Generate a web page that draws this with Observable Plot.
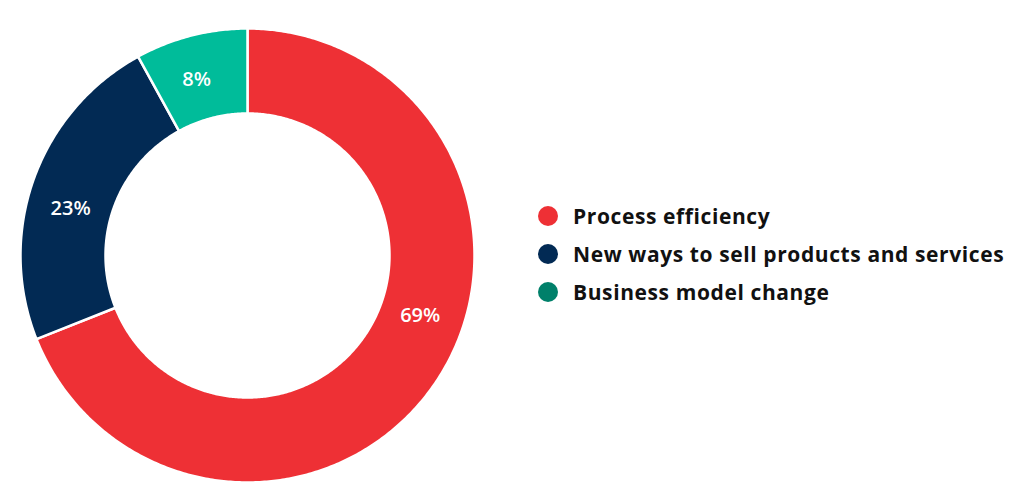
<!DOCTYPE html>
<html>
<head>
<meta charset="utf-8">
<script src="https://cdn.jsdelivr.net/npm/d3@7"></script>
<script src="https://cdn.jsdelivr.net/npm/@observablehq/plot@0.6"></script>
<style>
  html, body { margin: 0; padding: 0; background: #fff; }
  #wrap { position: relative; width: 1024px; height: 501px; }
  #chart { position: absolute; left: 0; top: 0; }
  #legend { position: absolute; left: 538px; top: 197px; font-family: "Open Sans", sans-serif; font-weight: 700; font-size: 21px; letter-spacing: 0.6px; color: #111; }
  .row { display: flex; align-items: center; height: 38px; line-height: 38px; }
  .sw { width: 20px; height: 20px; border-radius: 50%; margin-right: 15px; flex: none; }
</style>
</head>
<body>
<div id="wrap"><div id="chart"></div><div id="legend"></div></div>
<script>
const categories = ["Process efficiency", "New ways to sell products and services", "Business model change"];
const values = [69, 23, 8];
const sliceColors = ["#EE3035", "#022A54", "#00BC9A"];
const legendColors = ["#EE3035", "#022A54", "#00806A"];
const labels = ["69%", "23%", "8%"];

const R_OUT = 227, R_IN = 142, LABEL_R = 183, LABEL_FRAC = 0.44;
const pie = d3.pie().sort(null).value(d => d)(values);

const poly = [];
pie.forEach((p, i) => {
  const a0 = p.startAngle, a1 = p.endAngle;
  const n = Math.max(8, Math.ceil((a1 - a0) / 0.01));
  for (let k = 0; k <= n; k++) {
    const a = a0 + (a1 - a0) * k / n;
    poly.push({cat: categories[i], x: R_OUT * Math.sin(a), y: -R_OUT * Math.cos(a)});
  }
  for (let k = n; k >= 0; k--) {
    const a = a0 + (a1 - a0) * k / n;
    poly.push({cat: categories[i], x: R_IN * Math.sin(a), y: -R_IN * Math.cos(a)});
  }
  poly.push({cat: categories[i], x: R_OUT * Math.sin(a0), y: -R_OUT * Math.cos(a0)});
});

const labelPts = pie.map((p, i) => {
  const a = p.startAngle + (p.endAngle - p.startAngle) * LABEL_FRAC;
  return {label: labels[i], x: LABEL_R * Math.sin(a), y: -LABEL_R * Math.cos(a)};
});

const chart = Plot.plot({
  width: 494, height: 501,
  margin: 0,
  x: {domain: [-247, 247], range: [0, 494], axis: null},
  y: {domain: [-255, 246], range: [0, 501], axis: null},
  color: {domain: categories, range: sliceColors},
  marks: [
    Plot.line(poly, {x: "x", y: "y", z: "cat", fill: "cat", stroke: "white", strokeWidth: 2.5, curve: "linear"}),
    Plot.text(labelPts, {x: "x", y: "y", text: "label", fill: "white", fontSize: 20, fontWeight: 600, fontFamily: "Open Sans", style: {letterSpacing: "0.5px"}})
  ]
});
document.getElementById("chart").appendChild(chart);

const leg = document.getElementById("legend");
categories.forEach((c, i) => {
  const row = document.createElement("div");
  row.className = "row";
  const sw = document.createElement("div");
  sw.className = "sw";
  sw.style.background = legendColors[i];
  const t = document.createElement("span");
  t.textContent = c;
  row.appendChild(sw); row.appendChild(t);
  leg.appendChild(row);
});
</script>
</body>
</html>
